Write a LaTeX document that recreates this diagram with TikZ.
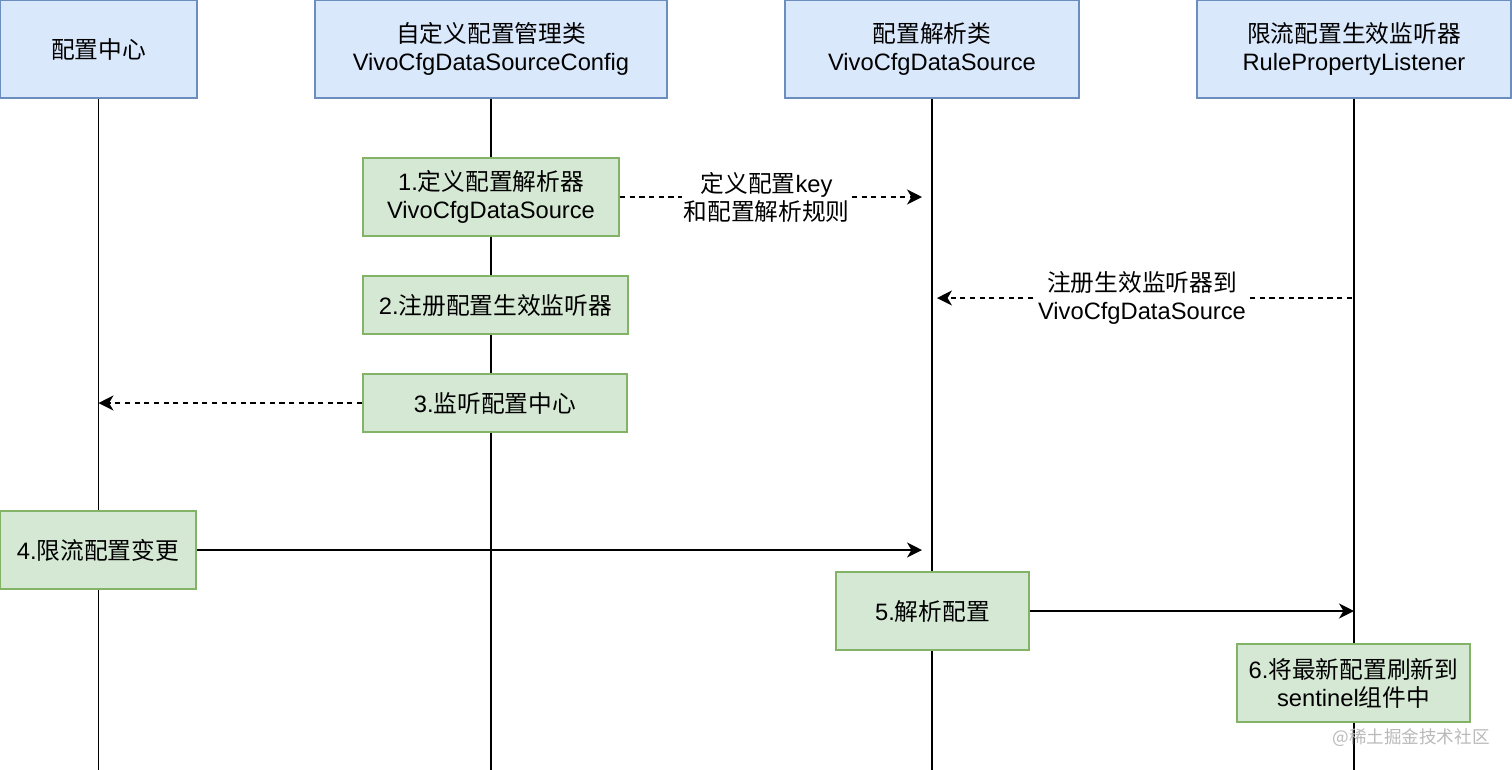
\documentclass[tikz,border=0pt]{standalone}
\usepackage{fontspec}
\setmainfont{Liberation Sans}
\newfontfamily\cjk{Noto Sans CJK SC}
\usetikzlibrary{arrows.meta, positioning, calc}
\definecolor{hdfill}{HTML}{DAE8FC}
\definecolor{hddraw}{HTML}{6C8EBF}
\definecolor{stfill}{HTML}{D5E8D4}
\definecolor{stdraw}{HTML}{82B366}
\newcommand{\zh}[1]{{\cjk #1}}

\begin{document}
\begin{tikzpicture}[x=0.02cm, y=-0.02cm,
            hd/.style={draw=hddraw, fill=hdfill, line width=1.1pt, minimum height=1.96cm, inner sep=0pt, align=center, font=\fontsize{13.5}{16}\selectfont},
            act/.style={draw=stdraw, fill=stfill, line width=1.1pt, minimum height=1.56cm, inner sep=0pt, align=center, font=\fontsize{13.5}{16}\selectfont},
            life/.style={line width=1.1pt},
            msg/.style={-{Stealth[length=8.5pt, width=8.5pt, inset=2.5pt]}, line width=1.1pt},
            dsh/.style={dash pattern=on 3pt off 2.5pt},
            lbl/.style={fill=white, inner sep=1pt, align=center, font=\fontsize{13.5}{16}\selectfont}]
            \useasboundingbox (0,0) rectangle (1512,769);
            % lifeline heads
            \node[hd, minimum width=3.94cm] (hd0) at (98.5,49) {\zh{配置中心}};
            \node[hd, minimum width=7.04cm] (hd1) at (491,49) {\zh{自定义配置管理类}\\VivoCfgDataSourceConfig};
            \node[hd, minimum width=5.88cm] (hd2) at (932,49) {\zh{配置解析类}\\VivoCfgDataSource};
            \node[hd, minimum width=6.28cm] (hd3) at (1354,49) {\zh{限流配置生效监听器}\\RulePropertyListener};
            \draw[life] (hd0.south) -- ++(0,671);
            \draw[life] (hd1.south) -- ++(0,671);
            \draw[life] (hd2.south) -- ++(0,671);
            \draw[life] (hd3.south) -- ++(0,671);
            % steps
            \node[act, minimum width=5.12cm] (s1) at (491,197) {1.\zh{定义配置解析器}\\VivoCfgDataSource};
            \node[act, minimum width=5.3cm, minimum height=1.16cm] (s2) at (495.5,305) {2.\zh{注册配置生效监听器}};
            \node[act, minimum width=5.28cm, minimum height=1.16cm] (s3) at (495,403) {3.\zh{监听配置中心}};
            \node[act, minimum width=3.92cm] (s4) at (98,550) {4.\zh{限流配置变更}};
            \node[act, minimum width=3.86cm] (s5) at (932.5,611) {5.\zh{解析配置}};
            \node[act, minimum width=4.66cm] (s6) at (1353.5,683) {6.\zh{将最新配置刷新到}\\sentinel\zh{组件中}};
            \coordinate (r2) at (1352,298);
            % messages
            \draw[msg, dsh, shorten >=0.2cm] (s1.east) -- node[lbl, pos=0.47] {\zh{定义配置}key\\\zh{和配置解析规则}} (s1.east -| hd2);
            \draw[msg, dsh, shorten >=0.1cm] (r2) -- node[lbl] {\zh{注册生效监听器到}\\VivoCfgDataSource} (r2 -| hd2);
            \draw[msg, dsh] (s3.west) -- (s3.west -| hd0);
            \draw[msg, shorten >=0.2cm] (s4.east) -- (s4.east -| hd2);
            \draw[msg] (s5.east) -- (s5.east -| hd3);
            \node[font=\cjk\fontsize{10}{12}\selectfont, text=gray!55] (wm) at (1411,738) {@稀土掘金技术社区};
        \end{tikzpicture}
\end{document}
